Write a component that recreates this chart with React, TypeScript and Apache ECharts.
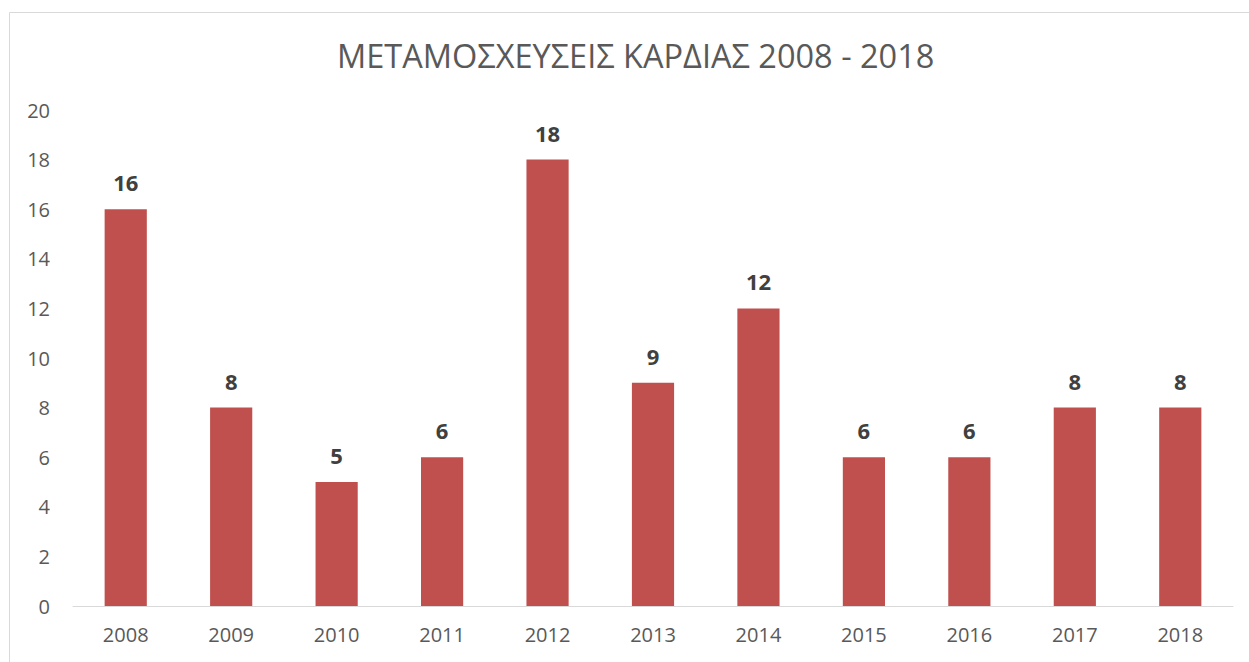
import React, { useEffect, useRef } from "react";
import * as echarts from "echarts";

const titleText = "ΜΕΤΑΜΟΣΧΕΥΣΕΙΣ ΚΑΡΔΙΑΣ 2008 - 2018";
const years = ["2008", "2009", "2010", "2011", "2012", "2013", "2014", "2015", "2016", "2017", "2018"];
const transplants = [16, 8, 5, 6, 18, 9, 12, 6, 6, 8, 8];
const yMin = 0;
const yMax = 20;
const yStep = 2;

export default function App() {
  const ref = useRef<HTMLDivElement>(null);
  useEffect(() => {
    if (!ref.current) return;
    const chart = echarts.init(ref.current, undefined, { renderer: "svg" });
    chart.setOption({
      animation: false,
      backgroundColor: "#ffffff",
      title: {
        text: titleText,
        left: 332,
        top: 34,
        textStyle: {
          fontFamily: "Open Sans",
          fontWeight: 400,
          fontSize: 32.5,
          color: "#595959",
        },
      },
      graphic: [
        {
          type: "rect",
          shape: { x: 9.5, y: 12.5, width: 1300, height: 700 },
          style: { fill: "none", stroke: "#d9d9d9", lineWidth: 1 },
          silent: true,
        },
      ],
      grid: { left: 73, right: 16, top: 110, bottom: 56, containLabel: false },
      xAxis: {
        type: "category",
        data: years,
        axisLine: { show: true, lineStyle: { color: "#d9d9d9", width: 1 } },
        axisTick: { show: false },
        axisLabel: {
          fontFamily: "Open Sans",
          fontSize: 20,
          color: "#595959",
          margin: 18,
        },
      },
      yAxis: {
        type: "value",
        min: yMin,
        max: yMax,
        interval: yStep,
        axisLine: { show: false },
        axisTick: { show: false },
        splitLine: { show: false },
        axisLabel: {
          fontFamily: "Open Sans",
          fontSize: 20,
          color: "#595959",
          margin: 23,
        },
      },
      series: [
        {
          type: "bar",
          data: transplants,
          barWidth: "40%",
          itemStyle: { color: "#C0504D" },
          label: {
            show: true,
            position: "top",
            distance: 16,
            fontFamily: "Open Sans",
            fontWeight: "bold",
            fontSize: 22,
            color: "#404040",
          },
        },
      ],
    });
    return () => chart.dispose();
  }, []);
  return (
    <div
      ref={ref}
      style={{ position: "absolute", left: 0, top: 0, width: 1249, height: 662 }}
    />
  );
}
